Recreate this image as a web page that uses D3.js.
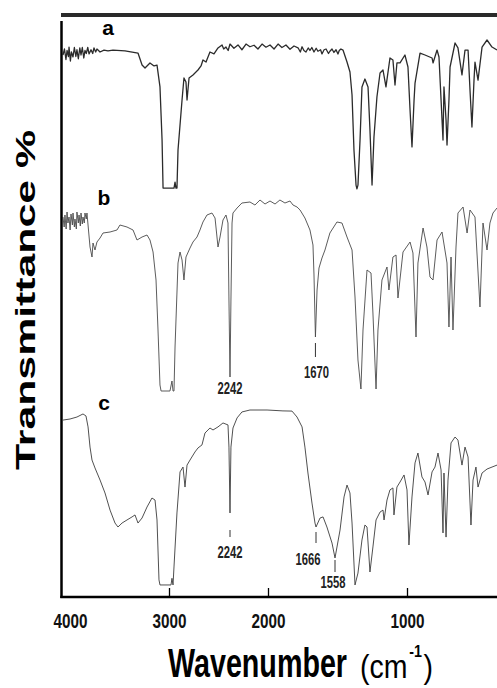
<!DOCTYPE html>
<html>
<head>
<meta charset="utf-8">
<script src="https://cdn.jsdelivr.net/npm/d3@7"></script>
<style>
  body { margin: 0; background: #fff; }
  svg { display: block; }
</style>
</head>
<body>
<svg id="chart" width="497" height="688"></svg>
<script>
// tick labels on the wavenumber axis
const tickValues = [4000, 3000, 2000, 1000];
const panelLabels = ['a', 'b', 'c'];

// spectra: [wavenumber cm-1, transmittance %]
const specA = [
  [4070, 90], [4055, 94], [4040, 87], [4029, 93], [4015, 89], [4009, 95.3], [3995, 86],
  [3985, 92], [3969, 88.7], [3955, 95], [3940, 89], [3929, 93.5], [3915, 87.5], [3900, 94.7],
  [3888, 90], [3875, 95], [3860, 88], [3848, 93], [3835, 91], [3820, 95], [3807, 90.7],
  [3787, 93.5], [3770, 91], [3757, 94.7], [3740, 92], [3727, 94], [3696, 92], [3656, 93.3],
  [3616, 92.7], [3565, 93.3], [3444, 92.7], [3313, 91.3], [3272, 83.3], [3242, 81.3], [3192, 84.7],
  [3151, 82.7], [3121, 83.3], [3091, 68.7], [3070, 33.3], [3060, 1.3], [2988, 1.3], [2938, 1.3],
  [2925, 5.3], [2913, 1.3], [2901, 1.3], [2888, 26.7], [2838, 60], [2814, 74.7], [2789, 72],
  [2776, 60], [2751, 74.7], [2702, 76.7], [2640, 80], [2602, 82.7], [2578, 86.7], [2540, 85.3],
  [2491, 92], [2441, 90.7], [2391, 94.7], [2341, 96.7], [2320, 94], [2292, 95.3], [2265, 93],
  [2242, 97.3], [2217, 94.5], [2191, 96.7], [2166, 93.5], [2140, 97.3], [2115, 95.5], [2089, 96.5],
  [2064, 94], [2038, 97.3], [2013, 95.2], [1986, 96.7], [1958, 94], [1930, 97.3], [1903, 95],
  [1875, 96.7], [1847, 93.8], [1819, 96], [1791, 94.8], [1775, 92], [1763, 95.5], [1750, 93],
  [1736, 92], [1720, 94.7], [1708, 93], [1695, 95], [1680, 92], [1665, 94.5], [1655, 92.5],
  [1640, 93.5], [1632, 90.7], [1620, 93.5], [1609, 94], [1595, 91], [1587, 92.5], [1575, 94],
  [1564, 91.7], [1550, 93.5], [1535, 90.7], [1525, 93], [1512, 94], [1496, 93.3], [1465, 85.3],
  [1442, 78.7], [1426, 63.3], [1411, 26.7], [1395, 3.3], [1388, 0.7], [1380, 3.3], [1364, 33.3],
  [1349, 68.7], [1326, 74], [1302, 68.7], [1287, 40], [1271, 3.3], [1256, 35.3], [1233, 62],
  [1209, 78], [1186, 80], [1163, 68.7], [1132, 88], [1109, 86.7], [1093, 70], [1078, 84.7],
  [1054, 84.7], [1016, 90], [993, 82], [978, 53.3], [964, 28.7], [949, 60], [942, 71.3],
  [906, 91.3], [870, 90], [819, 88], [812, 84.7], [783, 93.3], [769, 88.7], [754, 60],
  [740, 33.3], [733, 68.7], [718, 46.7], [711, 30], [697, 60], [689, 82], [653, 98],
  [632, 94.7], [603, 76.7], [581, 93.3], [559, 93.3], [545, 66.7], [531, 42], [516, 73.3],
  [509, 85.3], [487, 73.3], [458, 95.3], [422, 100], [386, 95.3], [350, 93.3]
];

const specB = [
  [4070, 89], [4058, 84], [4050, 90], [4038, 83], [4029, 91.5], [4020, 86], [4009, 89],
  [3998, 82.5], [3989, 90.5], [3975, 85], [3969, 91], [3955, 84], [3949, 88], [3935, 83],
  [3929, 91.5], [3915, 86], [3908, 90], [3895, 84.5], [3888, 91], [3875, 85.5], [3868, 89],
  [3855, 86], [3848, 91], [3835, 88], [3828, 91], [3797, 74],
  [3777, 69], [3767, 76], [3747, 72.5], [3727, 76.5], [3696, 78.5], [3666, 81], [3595, 81.5],
  [3525, 82.5], [3495, 85], [3424, 84], [3363, 82.5], [3323, 77.5], [3272, 79], [3222, 80],
  [3192, 77.5], [3161, 71.5], [3131, 57.5], [3111, 32.5], [3091, 5], [3080, 2], [2988, 2],
  [2963, 7], [2950, 2], [2938, 2], [2925, 24], [2888, 66], [2863, 71.5], [2838, 67.5],
  [2814, 57.5], [2789, 69], [2739, 73.5], [2702, 76.5], [2652, 79], [2615, 82.5], [2578, 86.5],
  [2528, 90], [2466, 91], [2428, 88.5], [2391, 74], [2366, 79], [2329, 87.5], [2292, 90],
  [2267, 86], [2255, 47.5], [2242, 9], [2236, 47.5], [2229, 86], [2223, 91], [2197, 93.5],
  [2166, 96], [2115, 96.5], [2083, 95], [2051, 97.5], [2019, 95.5], [1986, 97], [1951, 95.5],
  [1917, 97.5], [1882, 96], [1847, 97], [1826, 95], [1798, 94], [1777, 92.5], [1743, 88.5],
  [1708, 82.5], [1687, 75], [1680, 60], [1670, 29], [1660, 52.5], [1649, 63.5], [1632, 68.5],
  [1615, 72.5], [1587, 81], [1543, 86.5], [1504, 86], [1465, 79], [1426, 72.5], [1403, 49],
  [1380, 17.5], [1357, 3], [1341, 32.5], [1310, 62.5], [1279, 61], [1264, 41], [1240, 3],
  [1225, 32.5], [1194, 57.5], [1155, 64], [1140, 52.5], [1109, 69], [1085, 70], [1070, 48.5],
  [1031, 71.5], [978, 76.5], [957, 71], [935, 29], [921, 66], [884, 83.5], [856, 74],
  [834, 59], [812, 57.5], [783, 77.5], [747, 81.5], [711, 66], [697, 34], [682, 69],
  [668, 32.5], [646, 74], [632, 91], [595, 94], [566, 81], [545, 92.5], [509, 89],
  [473, 44], [451, 86], [422, 72.5], [401, 86], [379, 91], [350, 93.5]
];

const specC = [
  [4070, 94.4], [3999, 95], [3929, 96.1], [3868, 97.8], [3838, 96.7], [3817, 90.6], [3797, 79.4],
  [3777, 72.2], [3747, 67.8], [3696, 61.1], [3646, 53.9], [3595, 44.4], [3545, 37.2], [3515, 35],
  [3474, 37.2], [3424, 38.9], [3373, 40.6], [3343, 41.7], [3313, 37.2], [3272, 40], [3222, 46.1],
  [3172, 51.1], [3141, 50], [3121, 38.9], [3101, 5.6], [3091, 2.8], [2975, 2.8], [2963, 6.5],
  [2950, 2.8], [2938, 12.8], [2901, 42.8], [2863, 65.6], [2826, 68.3], [2801, 57.2], [2776, 69.4],
  [2739, 72.2], [2677, 76.7], [2640, 78.9], [2590, 80.6], [2553, 87.2], [2491, 90], [2453, 88.9],
  [2391, 90.6], [2329, 92.8], [2267, 91.7], [2255, 79.4], [2242, 42.8], [2236, 79.4], [2223, 90],
  [2197, 95.6], [2166, 98.9], [2115, 100], [2006, 100], [1896, 99.5], [1833, 99.4], [1798, 96.1],
  [1763, 90.6], [1743, 79.4], [1722, 65], [1694, 48.3], [1673, 37.2], [1666, 35], [1643, 40],
  [1626, 40.6], [1604, 35], [1575, 26.1], [1558, 17.8], [1519, 33.3], [1488, 51.7], [1465, 58.3],
  [1442, 53.9], [1426, 37.2], [1403, 2.8], [1380, 9.4], [1349, 27.8], [1326, 36.1], [1310, 35],
  [1287, 10], [1264, 23.9], [1240, 38.9], [1209, 43.3], [1186, 44.4], [1178, 38.9], [1155, 50],
  [1132, 55.6], [1109, 56.7], [1101, 41.7], [1078, 57.2], [1054, 60], [1023, 63.9], [1000, 55.6],
  [986, 25], [964, 51.7], [942, 70.6], [921, 76.1], [892, 62.8], [870, 60], [848, 52.8],
  [819, 65.6], [798, 68.3], [776, 76.1], [754, 66.7], [740, 31.7], [733, 65], [718, 29.4],
  [704, 61.1], [682, 81.7], [653, 85], [632, 83.3], [603, 69.4], [581, 79.4], [559, 73.9],
  [538, 36.1], [523, 61.1], [502, 68.3], [487, 57.2], [458, 65], [422, 67.2], [386, 68.3],
  [350, 69.4]
];

// marked bands
const annotB = [{ text: '2242', wn: 2242 }, { text: '1670', wn: 1670 }];
const annotC = [{ text: '2242', wn: 2242 }, { text: '1666', wn: 1666 }, { text: '1558', wn: 1558 }];

const narrow = '"Liberation Sans Narrow", "Arial Narrow", "Liberation Sans", Arial, sans-serif';
const sans = '"Liberation Sans", Arial, sans-serif';

const svg = d3.select('#chart');

// the original axis is not linear: it is stretched piece by piece
const x = d3.scaleLinear()
    .domain([4090, 3000, 2242, 2000, 1666, 1558, 1000, 350])
    .range([61, 169, 230, 268, 316, 335, 407, 497]);

const panels = [
    { data: specA, range: [190, 40], stroke: '#2b2b2b', sw: 1.3, label: panelLabels[0], lx: 108, ly: 35, annots: [], layout: {} },
    { data: specB, range: [395, 195], stroke: '#4a4a4a', sw: 0.9, label: panelLabels[1], lx: 104, ly: 205, annots: annotB,
      layout: { '2242': { t: null, ty: 394, dx: 0 }, '1670': { t: [343, 357], ty: 378, dx: 1 } } },
    { data: specC, range: [590, 410], stroke: '#3c3c3c', sw: 0.9, label: panelLabels[2], lx: 104, ly: 410, annots: annotC,
      layout: { '2242': { t: [530, 537], ty: 558, dx: 0 }, '1666': { t: [532, 543], ty: 565, dx: -8 }, '1558': { t: [560, 572], ty: 588, dx: -2 } } }
];

panels.forEach((p) => {
    const y = d3.scaleLinear().domain([0, 100]).range(p.range);
    const line = d3.line()
        .x((d) => x(d[0]))
        .y((d) => y(d[1]));

    svg.append('path')
        .attr('d', line(p.data))
        .attr('fill', 'none')
        .attr('stroke', p.stroke)
        .attr('stroke-width', p.sw)
        .attr('stroke-linejoin', 'round');

    svg.append('text')
        .attr('x', p.lx)
        .attr('y', p.ly)
        .attr('text-anchor', 'middle')
        .attr('font-family', sans)
        .attr('font-weight', 'bold')
        .attr('font-size', 21)
        .text(p.label);

    p.annots.forEach((a) => {
        const lay = p.layout[a.text];
        const ax = x(a.wn);
        if (lay.t) {
            svg.append('line')
                .attr('x1', ax).attr('x2', ax)
                .attr('y1', lay.t[0]).attr('y2', lay.t[1])
                .attr('stroke', '#333')
                .attr('stroke-width', 1);
        }
        svg.append('text')
            .attr('x', ax + lay.dx)
            .attr('y', lay.ty)
            .attr('text-anchor', 'middle')
            .attr('font-family', narrow)
            .attr('font-weight', 'bold')
            .attr('font-size', 16)
            .attr('textLength', 25)
            .attr('lengthAdjust', 'spacingAndGlyphs')
            .attr('fill', '#222')
            .text(a.text);
    });
});

// frame
svg.append('line')
    .attr('x1', 61).attr('x2', 497).attr('y1', 15).attr('y2', 15)
    .attr('stroke', '#2a2a2a').attr('stroke-width', 4);
svg.append('line')
    .attr('x1', 61.5).attr('x2', 61.5).attr('y1', 21).attr('y2', 598)
    .attr('stroke', '#000').attr('stroke-width', 2.5);

// bottom axis
const xAxis = d3.axisBottom(x)
    .tickValues(tickValues)
    .tickSize(-9)
    .tickFormat(d3.format('d'));
const xAxisGroup = svg.append('g')
    .attr('transform', 'translate(0,597)')
    .call(xAxis);
xAxisGroup.select('.domain').remove();
xAxisGroup.selectAll('.tick line')
    .attr('stroke', '#000')
    .attr('stroke-width', 1.3)
    .filter((d) => d === 4000).remove();
xAxisGroup.selectAll('.tick text')
    .attr('y', 31)
    .attr('dy', 0)
    .attr('fill', '#111')
    .attr('font-family', narrow)
    .attr('font-weight', 'bold')
    .attr('font-size', 21)
    .attr('textLength', 34)
    .attr('lengthAdjust', 'spacingAndGlyphs');
svg.append('line')
    .attr('x1', 60.3).attr('x2', 497).attr('y1', 597).attr('y2', 597)
    .attr('stroke', '#000').attr('stroke-width', 2.5);

// axis titles
svg.append('text')
    .attr('x', 168).attr('y', 677)
    .attr('font-family', narrow).attr('font-weight', 'bold').attr('font-size', 40)
    .attr('textLength', 179).attr('lengthAdjust', 'spacingAndGlyphs')
    .text('Wavenumber');

// unit as one text: superscript done with tspans
const unit = svg.append('text')
    .attr('x', 360).attr('y', 678)
    .attr('font-family', narrow).attr('font-size', 34)
    .attr('textLength', 73).attr('lengthAdjust', 'spacingAndGlyphs');
unit.append('tspan').text('(cm');
unit.append('tspan')
    .attr('dy', -21).attr('dx', 2)
    .attr('font-size', 17).attr('font-weight', 'bold')
    .text('-1');
unit.append('tspan')
    .attr('dy', 21).attr('dx', 2)
    .text(')');

svg.append('text')
    .attr('transform', 'translate(35,300) rotate(-90)')
    .attr('text-anchor', 'middle')
    .attr('font-family', sans)
    .attr('font-weight', 'bold')
    .attr('font-size', 28)
    .attr('textLength', 340)
    .attr('lengthAdjust', 'spacingAndGlyphs')
    .text('Transmittance %');
</script>
</body>
</html>
